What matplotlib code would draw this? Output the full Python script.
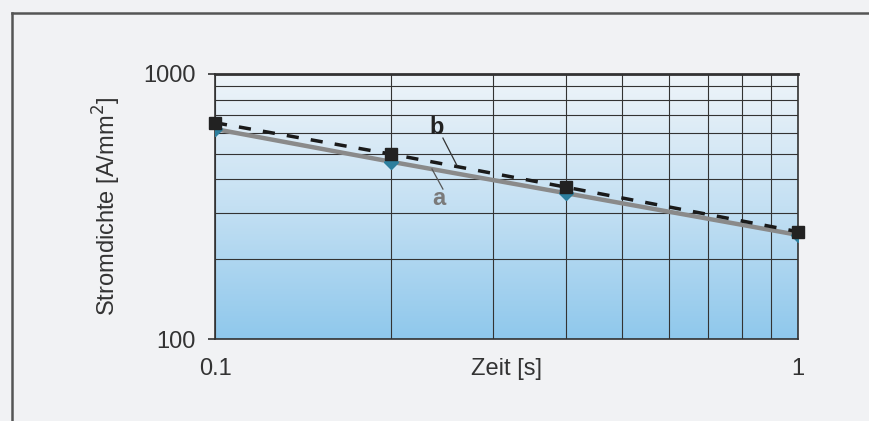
import numpy as np
import matplotlib
matplotlib.use("Agg")
import matplotlib.pyplot as plt
from matplotlib.colors import LinearSegmentedColormap
from matplotlib.lines import Line2D

plt.rcParams['font.family'] = ['Liberation Sans', 'DejaVu Sans']

# data
zeit = [0.1, 0.2, 0.4, 1.0]
stromdichte_a = [620, 467, 355, 247]
stromdichte_b = [655, 499, 374, 254]

x_ticks = [0.1, 1]
x_ticklabels = ['0.1', '1']
y_ticks = [100, 1000]
y_ticklabels = ['100', '1000']

fig = plt.figure(figsize=(8.7, 4.21), dpi=100)
fig.patch.set_facecolor('#f1f2f4')

# frame lines top and left
fig.add_artist(Line2D([12.5 / 870, 1.0], [1 - 13 / 421, 1 - 13 / 421],
                      color='#555555', lw=1.8, transform=fig.transFigure))
fig.add_artist(Line2D([12.5 / 870, 12.5 / 870], [0, 1 - 13 / 421],
                      color='#555555', lw=1.8, transform=fig.transFigure))

ax = fig.add_axes([215 / 870, 1 - 339 / 421, 583 / 870, 265 / 421])
ax.set_xscale('log')
ax.set_yscale('log')
ax.set_xlim(0.1, 1)
ax.set_ylim(100, 1000)

# blue gradient background
cmap = LinearSegmentedColormap.from_list('bg', ['#8fc8ec', '#c4e0f3', '#eef4f9'])
grad = np.linspace(0, 1, 256).reshape(-1, 1)
ax.imshow(grad, cmap=cmap, extent=[0, 1, 0, 1], transform=ax.transAxes,
          aspect='auto', origin='lower', zorder=0)

ax.grid(True, which='both', color='#333333', lw=0.8, zorder=1)
ax.set_axisbelow(False)

ax.plot(zeit, stromdichte_a, color='#8a8a8a', lw=3.2, zorder=3)
ax.plot(zeit, stromdichte_a, ls='none', marker='D', ms=7, color='#2d7f9e', zorder=3)
ax.plot(zeit, stromdichte_b, color='#1a1a1a', lw=2.5, ls=(0, (3.5, 3.5)),
        marker='s', ms=9, mfc='#222222', mec='#222222', zorder=4, clip_on=False)

# curve labels with leader lines
ax.text(0.2337, 594, 'b', fontsize=17, fontweight='bold', color='#222222',
        ha='left', va='baseline', zorder=5)
ax.plot([0.246, 0.26], [573, 452], color='#333333', lw=0.9, zorder=5)
ax.text(0.2356, 320, 'a', fontsize=17, fontweight='bold', color='#7a7a7a',
        ha='left', va='baseline', zorder=5)
ax.plot([0.2356, 0.246], [438, 368], color='#555555', lw=0.9, zorder=5)

for side in ['left', 'right', 'bottom']:
    ax.spines[side].set_color('#333333')
    ax.spines[side].set_linewidth(1.2)
ax.spines['top'].set_color('#333333')
ax.spines['top'].set_linewidth(2.0)

ax.set_xticks(x_ticks)
ax.set_xticklabels(x_ticklabels)
ax.set_yticks(y_ticks)
ax.set_yticklabels(y_ticklabels)
ax.minorticks_off()
ax.set_xticks([0.2, 0.3, 0.4, 0.5, 0.6, 0.7, 0.8, 0.9], minor=True)
ax.set_yticks([200, 300, 400, 500, 600, 700, 800, 900], minor=True)
ax.xaxis.set_minor_formatter(plt.NullFormatter())
ax.yaxis.set_minor_formatter(plt.NullFormatter())
ax.tick_params(axis='x', which='both', length=0, pad=14, labelsize=17, colors='#333333')
ax.tick_params(axis='y', which='major', length=5, width=1.2, direction='out',
               pad=9, labelsize=17, colors='#333333')
ax.tick_params(axis='y', which='minor', length=0)

ax.set_xlabel('Zeit [s]', fontsize=17, color='#333333')
ax.xaxis.set_label_coords(0.5, -0.072)
ax.xaxis.label.set_va('top')
ax.set_ylabel('Stromdichte [A/mm$^2$]', fontsize=17, color='#333333')
ax.yaxis.set_label_coords(-0.185, 0.5)
ax.yaxis.label.set_va('center')

fig.savefig('out.png', dpi=100, facecolor=fig.get_facecolor())
